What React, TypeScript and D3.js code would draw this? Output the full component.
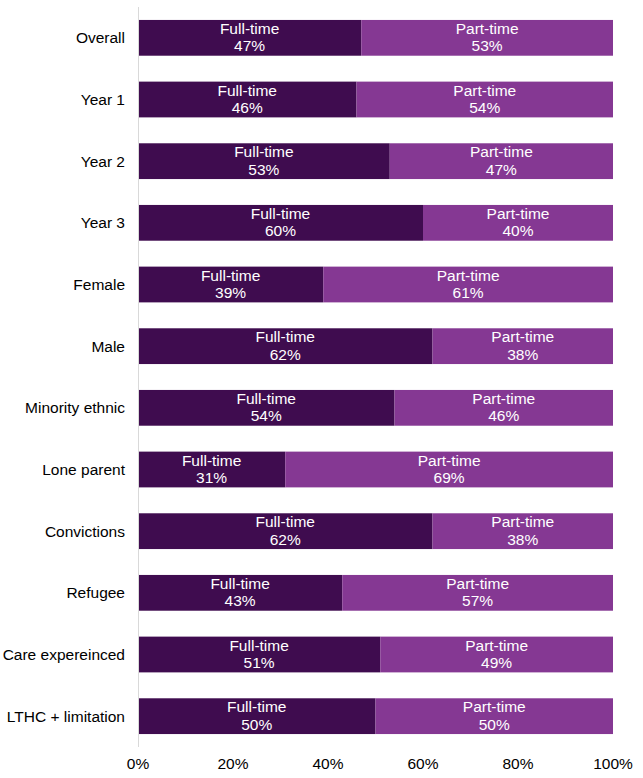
import React from 'react';
import * as d3 from 'd3';

const categories = [
  'Overall',
  'Year 1',
  'Year 2',
  'Year 3',
  'Female',
  'Male',
  'Minority ethnic',
  'Lone parent',
  'Convictions',
  'Refugee',
  'Care expereinced',
  'LTHC + limitation',
];
const fullTime = [47, 46, 53, 60, 39, 62, 54, 31, 62, 43, 51, 50];
const partTime = [53, 54, 47, 40, 61, 38, 46, 69, 38, 57, 49, 50];
const seriesNames = ['Full-time', 'Part-time'];
const xTicks = [0, 20, 40, 60, 80, 100];

const width = 643;
const height = 778;
const margin = { top: 7, right: 30, bottom: 31, left: 138 };
const colors = ['#3f0c4f', '#853893'];
const font = 'Arial, "Liberation Sans", sans-serif';
const fs = 15.5;

export default function App() {
  const innerW = width - margin.left - margin.right;
  const innerH = height - margin.top - margin.bottom;

  const x = d3.scaleLinear().domain([0, 100]).range([0, innerW]);
  const y = d3.scaleBand<string>().domain(categories).range([0, innerH]).paddingInner(0.42).paddingOuter(0.21);

  const rows = categories.map((c, i) => ({ c, vals: [fullTime[i], partTime[i]] }));
  const stacked = d3
    .stack<{ c: string; vals: number[] }, number>()
    .keys([0, 1])
    .value((d, k) => d.vals[k])(rows);

  return (
    <svg
      width={width}
      height={height}
      style={{ position: 'absolute', left: 0, top: 0, background: '#fff' }}
      fontFamily={font}
    >
      <g transform={`translate(${margin.left},${margin.top})`}>
        <line x1={0.5} x2={0.5} y1={0} y2={innerH} stroke="#d9d9d9" strokeWidth={1} />
        {stacked.map((layer, k) =>
          layer.map((seg, i) => {
            const x0 = x(seg[0]);
            const x1 = x(seg[1]);
            const yy = y(categories[i])!;
            const cy = yy + y.bandwidth() / 2;
            const cx = (x0 + x1) / 2;
            return (
              <g key={`${k}-${i}`}>
                <rect x={x0 + (k === 0 ? 1 : 0)} y={yy} width={x1 - x0 - (k === 0 ? 1 : 0)} height={y.bandwidth()} fill={colors[k]} />
                <text x={cx} y={cy - 4} textAnchor="middle" fontSize={fs} fill="#fff">
                  {seriesNames[k]}
                </text>
                <text x={cx} y={cy + 13.5} textAnchor="middle" fontSize={fs} fill="#fff">
                  {`${seg[1] - seg[0]}%`}
                </text>
              </g>
            );
          })
        )}
        {categories.map((c) => (
          <text
            key={c}
            x={-13}
            y={y(c)! + y.bandwidth() / 2}
            dy="0.35em"
            textAnchor="end"
            fontSize={fs}
            fill="#000"
          >
            {c}
          </text>
        ))}
        {xTicks.map((t) => (
          <text key={t} x={x(t)} y={innerH + 22} textAnchor="middle" fontSize={fs} fill="#000">
            {`${t}%`}
          </text>
        ))}
      </g>
    </svg>
  );
}
